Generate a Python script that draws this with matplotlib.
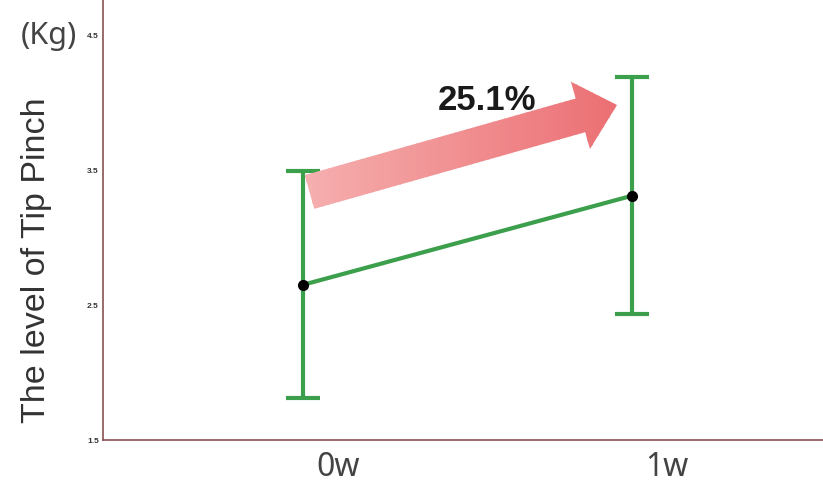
import matplotlib
matplotlib.use("Agg")
import matplotlib.pyplot as plt
import numpy as np
from matplotlib.patches import FancyArrow, Rectangle
from matplotlib.transforms import Affine2D
from matplotlib.colors import to_rgb

# data
weeks = ["0w", "1w"]
tip_pinch_mean = [2.65, 3.31]
tip_pinch_sd = [0.84, 0.88]
y_ticks = [1.5, 2.5, 3.5, 4.5]
increase_label = "25.1%"

W, H = 823, 486
fig = plt.figure(figsize=(W / 100, H / 100), dpi=100)
ax = fig.add_axes([103 / W, 46 / H, 720 / W, 440 / H])

x = np.arange(len(weeks))
green = "#3c9f4c"
ax.errorbar(x, tip_pinch_mean, yerr=tip_pinch_sd, color=green, lw=3,
            capsize=12.5, capthick=3, zorder=3)
ax.plot(x, tip_pinch_mean, "o", color="black", ms=7, zorder=4)

ax.set_xlim(-0.608, 1.58)
ax.set_ylim(1.5, 4.76)

ax.set_yticks(y_ticks)
ax.set_yticklabels([str(v) for v in y_ticks], fontsize=6, fontweight="bold",
                   color="#333333", family="Liberation Sans")
ax.set_xticks(x + 0.106)
ax.set_xticklabels(weeks, fontsize=23, color="#444444", family="Noto Sans")
ax.tick_params(axis="both", length=0)
ax.tick_params(axis="y", pad=3)
ax.tick_params(axis="x", pad=8)

for side in ["top", "right"]:
    ax.spines[side].set_visible(False)
for side in ["left", "bottom"]:
    ax.spines[side].set_color("#8a5252")
    ax.spines[side].set_linewidth(1.2)

ax.set_ylabel("The level of Tip Pinch", fontsize=24.5, color="#333333",
              family="Liberation Sans")
ax.yaxis.set_label_coords(-0.071, 0.409)
fig.text(21 / W, 1 - 36 / H, "(Kg)", fontsize=22, color="#444444",
         family="Noto Sans", va="center", ha="left")

# gradient arrow, drawn in pixel space (origin top-left)
px = Affine2D().scale(1, -1).translate(0, H)
tail = (309.5, 192)
tip = (617, 105)
arrow = FancyArrow(tail[0], tail[1], tip[0] - tail[0], tip[1] - tail[1],
                   width=35, head_width=70, head_length=38,
                   length_includes_head=True, transform=px,
                   facecolor="none", edgecolor="none")
fig.add_artist(arrow)
c0 = np.array(to_rgb("#f6b0b0"))
c1 = np.array(to_rgb("#eb6e72"))
n = 60
x0, x1 = 295, 625
for i in range(n):
    t = i / (n - 1)
    strip = Rectangle((x0 + (x1 - x0) * i / n, 70), (x1 - x0) / n + 1, 150,
                      transform=px, facecolor=c0 + (c1 - c0) * t,
                      edgecolor="none", zorder=2)
    fig.add_artist(strip)
    strip.set_clip_path(arrow)

fig.text(487 / W, 1 - 100 / H, increase_label, fontsize=25, fontweight="bold",
         color="#1a1a1a", family="Liberation Sans", ha="center", va="center",
         zorder=5)

fig.savefig("out.png", dpi=100)
